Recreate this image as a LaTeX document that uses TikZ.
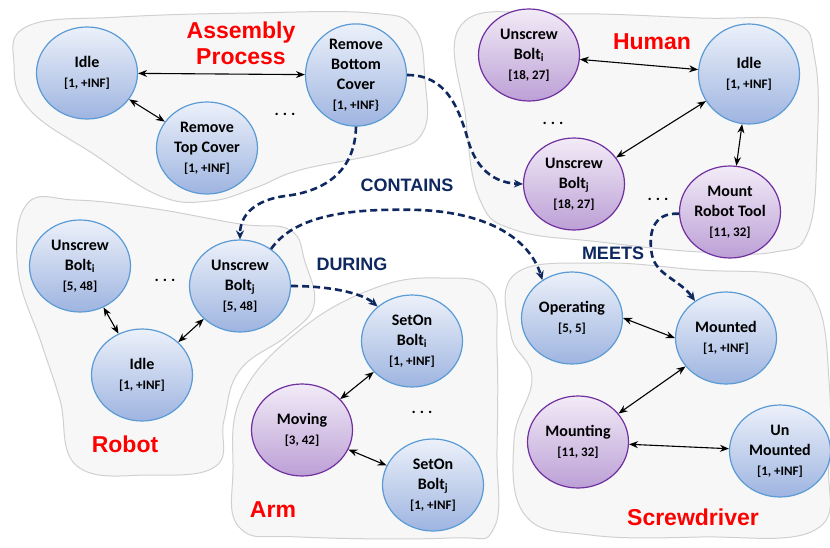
\documentclass[tikz,border=0pt]{standalone}
\usepackage{fontspec}
\setmainfont{Carlito}
\newfontfamily\arialf{Liberation Sans}
\usetikzlibrary{shapes.geometric,arrows.meta}
\definecolor{bluetop}{RGB}{236,241,250}
\definecolor{bluebot}{RGB}{158,180,224}
\definecolor{blueline}{RGB}{91,155,213}
\definecolor{purtop}{RGB}{242,235,247}
\definecolor{purbot}{RGB}{188,160,214}
\definecolor{purline}{RGB}{112,48,160}
\definecolor{blobfill}{RGB}{247,247,247}
\definecolor{blobline}{RGB}{208,208,208}
\definecolor{navy}{RGB}{15,40,95}
\newcommand{\namefont}{\bfseries\fontsize{16}{20}\selectfont}
\newcommand{\intfont}{\fontsize{13}{20}\selectfont}
\newcommand{\mydots}{.\hspace{4pt}.\hspace{4pt}.}
\begin{document}
\begin{tikzpicture}[x=1pt,y=-1pt,
  statebox/.style={ellipse, minimum width=101pt, minimum height=92pt, inner sep=0pt,
    line width=1.2pt, align=center, font=\namefont},
  bluestate/.style={statebox, draw=blueline, top color=bluetop, bottom color=bluebot},
  purstate/.style={statebox, draw=purline, top color=purtop, bottom color=purbot},
  blob/.style={fill=blobfill, draw=blobline, line width=1pt},
  grouplabel/.style={font=\arialf\bfseries\fontsize{23}{26}\selectfont, text=red, align=center, inner sep=0pt},
  rellabel/.style={font=\arialf\bfseries\fontsize{18}{20}\selectfont, text=navy, inner sep=0pt, anchor=base},
  dotsnode/.style={font=\bfseries\fontsize{16}{16}\selectfont, inner sep=0pt, anchor=base},
  link/.style={{Stealth[length=9pt,width=7pt]}-{Stealth[length=9pt,width=7pt]}, line width=1.1pt, black},
  rel/.style={-{Stealth[length=9pt,width=8pt]}, line width=2.6pt, navy, dash pattern=on 7pt off 4pt}]
\useasboundingbox (0,0) rectangle (830,548);
% blobs
\draw[blob] plot[smooth cycle, tension=0.7] coordinates {(28,26) (120,17) (250,13) (370,13) (414,28) (425,80) (423,132) (385,152) (300,170) (255,188) (210,201) (160,196) (95,155) (30,110) (14,65)};
\draw[blob] plot[smooth cycle, tension=0.7] coordinates {(462,24) (560,14) (700,18) (792,22) (815,60) (817,150) (808,232) (775,252) (700,252) (600,242) (515,230) (480,200) (466,120)};
\draw[blob] plot[smooth cycle, tension=0.7] coordinates {(27,204) (75,200) (150,208) (240,224) (290,230) (305,262) (314,305) (288,335) (240,370) (224,420) (216,466) (150,475) (77,466) (60,400) (42,345) (18,270)};
\draw[blob] plot[smooth cycle, tension=0.7] coordinates {(242,395) (300,330) (375,288) (440,278) (490,290) (497,350) (497,450) (494,528) (450,538) (300,537) (240,528) (233,470)};
\draw[blob] plot[smooth cycle, tension=0.7] coordinates {(515,274) (600,263) (700,270) (785,276) (818,305) (829,380) (829,465) (815,530) (700,537) (590,535) (525,515) (514,440) (532,378) (511,335)};
% group labels
\node[grouplabel] (lasm) at (241,43) {Assembly\\Process};
\node[grouplabel, anchor=base] (lhum) at (652,50) {Human};
\node[grouplabel, anchor=base] (lrob) at (125,452) {Robot};
\node[grouplabel, anchor=base] (larm) at (273,517) {Arm};
\node[grouplabel, anchor=base] (lscr) at (693,525) {Screwdriver};
% Assembly process
\node[bluestate] (aidle) at (87,73) {Idle\\{\intfont [1, +INF]}};
\node[bluestate] (artc) at (207,148) {Remove\\Top Cover\\{\intfont [1, +INF]}};
\node[bluestate, minimum height=95pt] (arbc) at (356,75) {Remove\\Bottom\\Cover\\{\intfont [1, +INF\}}};
\node[dotsnode] (adots) at (285,116) {\mydots};
% Human
\node[purstate] (hbi) at (529,55) {Unscrew\\Bolt\textsubscript{i}\\{\intfont [18, 27]}};
\node[bluestate, minimum height=100pt] (hidle) at (749,74) {Idle\\{\intfont [1, +INF]}};
\node[purstate] (hbj) at (574,184) {Unscrew\\Bolt\textsubscript{j}\\{\intfont [18, 27]}};
\node[purstate] (hmrt) at (730,212) {Mount\\Robot Tool\\{\intfont [11, 32]}};
\node[dotsnode] (hdots1) at (553,125) {\mydots};
\node[dotsnode] (hdots2) at (658,201) {\mydots};
% Robot
\node[bluestate] (rbi) at (80,266) {Unscrew\\Bolt\textsubscript{i}\\{\intfont [5, 48]}};
\node[bluestate] (rbj) at (240,286) {Unscrew\\Bolt\textsubscript{j}\\{\intfont [5, 48]}};
\node[bluestate] (ridle) at (142,375) {Idle\\{\intfont [1, +INF]}};
\node[dotsnode] (rdots) at (165,281) {\mydots};
% Arm
\node[bluestate] (sbi) at (412,341) {SetOn\\Bolt\textsubscript{i}\\{\intfont [1, +INF]}};
\node[purstate] (amov) at (302,430) {Moving\\{\intfont [3, 42]}};
\node[bluestate] (sbj) at (433,485) {SetOn\\Bolt\textsubscript{j}\\{\intfont [1, +INF]}};
\node[dotsnode] (ardots) at (422,413) {\mydots};
% Screwdriver
\node[bluestate] (sop) at (572,318) {Operating\\{\intfont [5, 5]}};
\node[bluestate] (smtd) at (726,338) {Mounted\\{\intfont [1, +INF]}};
\node[purstate] (smtg) at (578,442) {Mounting\\{\intfont [11, 32]}};
\node[bluestate] (sun) at (780,451) {Un\\Mounted\\{\intfont [1, +INF]}};
% relation labels
\node[rellabel] (lcont) at (407,192) {CONTAINS};
\node[rellabel] (ldur) at (352,270) {DURING};
\node[rellabel] (lmeet) at (613,259) {MEETS};
% solid links
\draw[link] (aidle) -- (arbc);
\draw[link] (aidle) -- (artc);
\draw[link] (hbi) -- (hidle);
\draw[link] (hbj) -- (hidle);
\draw[link] (hidle) -- (hmrt);
\draw[link] (rbi) -- (ridle);
\draw[link] (ridle) -- (rbj);
\draw[link] (sbi) -- (amov);
\draw[link] (amov) -- (sbj);
\draw[link] (sop.east) -- (smtd.west);
\draw[link] (smtd) -- (smtg);
\draw[link] (smtg) -- (sun);
% dashed relations
\coordinate (c1) at (468,140);
\coordinate (c2) at (285,196);
\coordinate (c3) at (420,210);
\coordinate (c5) at (652,255);
\draw[rel] (arbc.east) .. controls (445,75) and (458,105) .. (c1) .. controls (478,175) and (500,183) .. (hbj.west);
\draw[rel] (arbc.south) .. controls (355,175) and (320,192) .. (c2) .. controls (255,200) and (240,215) .. (rbj.north);
\draw[rel] (rbj.50) .. controls (295,215) and (350,208) .. (c3) .. controls (490,213) and (530,240) .. (sop.128);
\draw[rel] (rbj.east) .. controls (330,286) and (362,293) .. (sbi.135);
\draw[rel] (hmrt.182) .. controls (652,212) and (648,235) .. (c5) .. controls (656,275) and (680,280) .. (smtd.130);
\end{tikzpicture}
\end{document}
